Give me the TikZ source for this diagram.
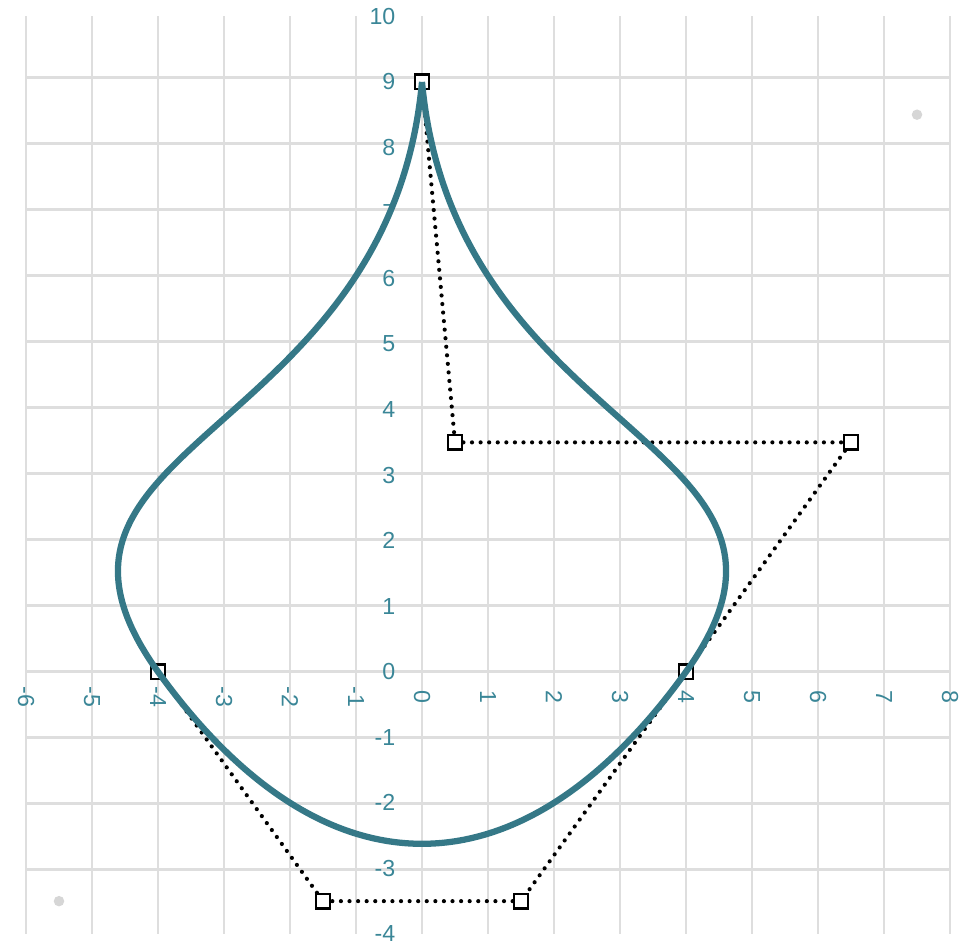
\documentclass[tikz,border=0pt]{standalone}
\usepackage{fontspec}
\setmainfont{Liberation Sans}
\usepackage{tikz}
\usetikzlibrary{positioning}

\definecolor{curvecol}{HTML}{357887}
\definecolor{labelcol}{HTML}{3A8697}
\definecolor{gridcol}{HTML}{DEDEDE}
\definecolor{dotcol}{HTML}{D6D6D6}

\begin{document}
\begin{tikzpicture}[x=1cm,y=0.993cm,
  ctrl/.style={draw=black,fill=white,line width=1pt,minimum size=0.22cm,inner sep=0pt},
  hull/.style={line width=1.8pt,dash pattern=on 0pt off 3.7pt,line cap=round},
  lbl/.style={text=labelcol,font=\fontsize{10}{11}\selectfont}]
\useasboundingbox (-6.394,-4.107) rectangle (8.409,10.25);
% grid
\draw[gridcol,line width=1.2pt] (-6,-4) grid (8,10);
\foreach \y in {-4,...,10} \node[lbl,anchor=east] at (-0.28,\y) {\y};
\foreach \x in {-6,...,8} \node[lbl,rotate=-90] at (\x,-0.38) {\x};
\fill[dotcol] (7.5,8.5) circle (0.08);
\fill[dotcol] (-5.5,-3.5) circle (0.08);

% control points
\node[ctrl] (top) at (0,9) {};
\node[ctrl] (c1) at (0.5,3.5) {};
\node[ctrl] (c2) at (6.5,3.5) {};
\node[ctrl] (rgt) at (4,0) {};
\node[ctrl] (c3) at (1.5,-3.5) {};
\node[ctrl] (c4) at (-1.5,-3.5) {};
\node[ctrl] (lft) at (-4,0) {};
\draw[hull] (top) -- (c1) -- (c2) -- (rgt) -- (c3) -- (c4) -- (lft);

% curve
\draw[curvecol,line width=2.7pt] (0,9) .. controls (0.5,3.5) and (6.5,3.5) .. (4,0)
  .. controls (1.5,-3.5) and (-1.5,-3.5) .. (-4,0)
  .. controls (-6.5,3.5) and (-0.5,3.5) .. (0,9);
\end{tikzpicture}
\end{document}
